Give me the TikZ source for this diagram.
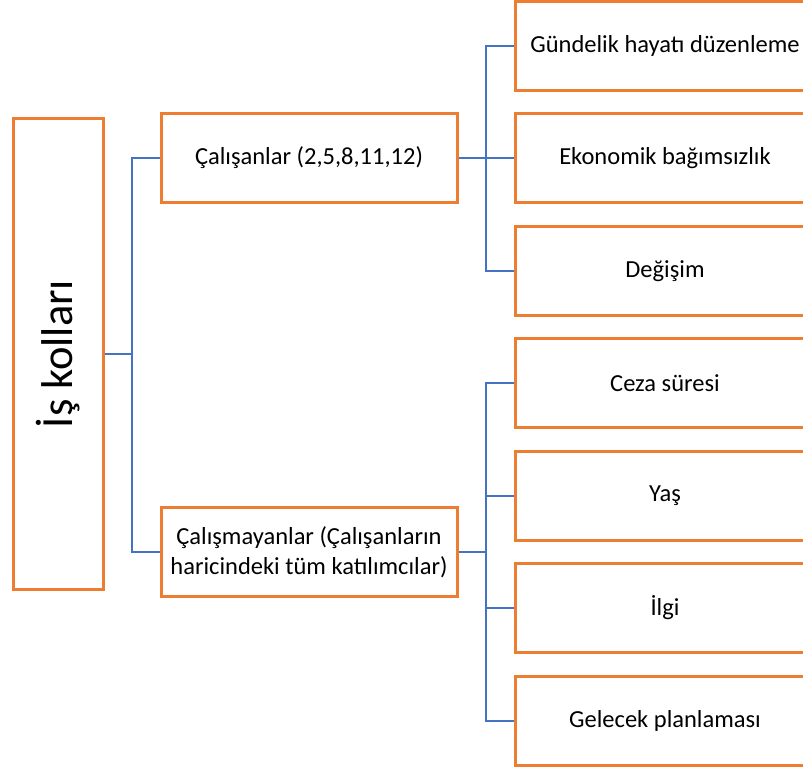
\documentclass[tikz,border=0pt]{standalone}
\usepackage{fontspec}
\setmainfont{Carlito}
\definecolor{boxorange}{HTML}{ED7D31}
\definecolor{linkblue}{HTML}{4472C4}
\tikzset{
  box/.style={draw=boxorange, line width=3pt, fill=white, minimum height=89pt,
    inner sep=0pt, font=\fontsize{24.5}{30}\selectfont, align=center},
  link/.style={draw=linkblue, line width=2.6pt}
}
\begin{document}
\begin{tikzpicture}[x=1pt, y=-1pt]
  \useasboundingbox (0,0) rectangle (803,769);
  % root
  \node[box, minimum width=90pt, minimum height=471pt] (root) at (58,354) {};
  \node[rotate=90, font=\fontsize{44.5}{50}\selectfont] (roottxt) at (root.center) {İş kolları};
  % middle level
  \node[box, minimum width=296pt] (calisan) at (309,158) {Çalışanlar (2,5,8,11,12)};
  \node[box, minimum width=296pt] (calismayan) at (309,552)
    {Çalışmayanlar (Çalışanların\\haricindeki tüm katılımcılar)};
  % right level
  \node[box, minimum width=300pt] (gundelik) at (665,46) {Gündelik hayatı düzenleme};
  \node[box, minimum width=300pt] (ekonomik) at (665,158) {Ekonomik bağımsızlık};
  \node[box, minimum width=300pt] (degisim) at (665,271) {Değişim};
  \node[box, minimum width=300pt] (ceza) at (665,383) {Ceza süresi};
  \node[box, minimum width=300pt] (yas) at (665,496) {Yaş};
  \node[box, minimum width=300pt] (ilgi) at (665,608) {İlgi};
  \node[box, minimum width=300pt] (gelecek) at (665,721) {Gelecek planlaması};
  % connectors
  \coordinate (rj) at (132,354);
  \coordinate (cj) at (486,158);
  \coordinate (nj) at (486,552);
  \draw[link] (root.east) -- (rj);
  \draw[link] (rj) |- (calisan.west);
  \draw[link] (rj) |- (calismayan.west);
  \draw[link] (calisan.east) -- (cj);
  \foreach \n in {gundelik,ekonomik,degisim}
    \draw[link] (cj) |- (\n.west);
  \draw[link] (calismayan.east) -- (nj);
  \foreach \n in {ceza,yas,ilgi,gelecek}
    \draw[link] (nj) |- (\n.west);
\end{tikzpicture}
\end{document}
